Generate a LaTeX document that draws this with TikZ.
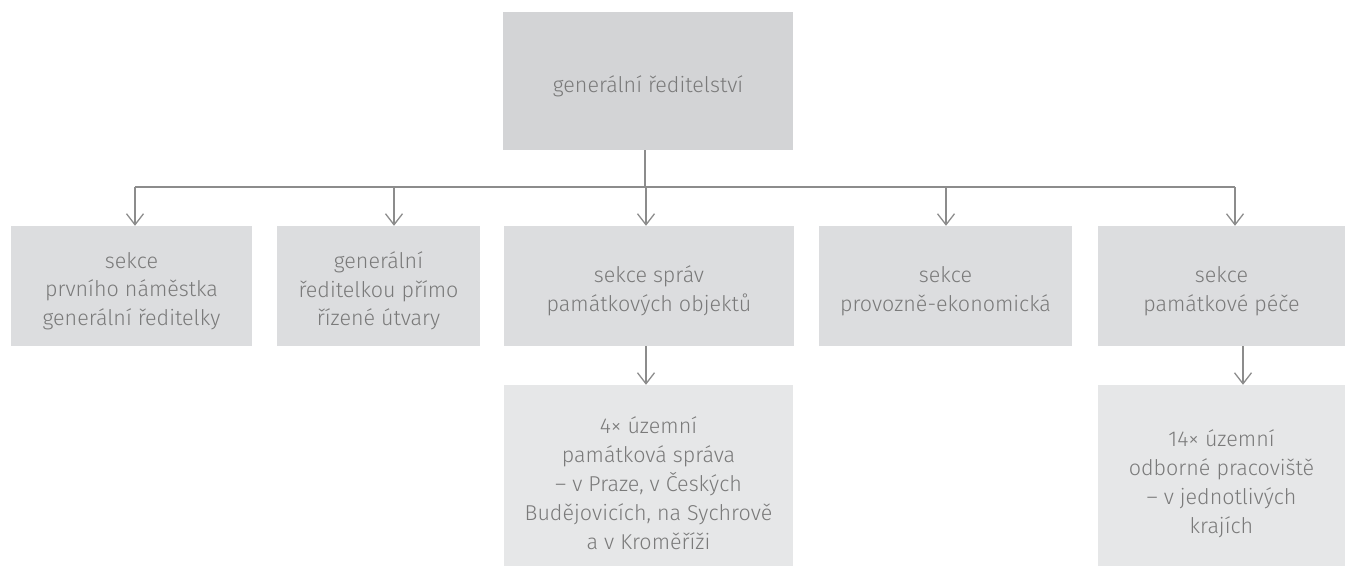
\documentclass[tikz,border=0pt]{standalone}
\usepackage{fontspec}
\setmainfont{Fira Sans}[UprightFont=* Light]
\usepackage{xcolor}
\usetikzlibrary{positioning, arrows.meta, calc}

\definecolor{topgray}{HTML}{D3D4D6}
\definecolor{midgray}{HTML}{DCDDDF}
\definecolor{lowgray}{HTML}{E6E7E8}
\definecolor{txtgray}{HTML}{7A7A7A}
\definecolor{linegray}{HTML}{8C8C8C}

\begin{document}
\begin{tikzpicture}[x=1pt, y=1pt, >={Straight Barb[length=11pt, width=17pt]},
        every node/.style={font=\fontsize{21.5}{28.5}\selectfont, text=txtgray, align=center, inner sep=0pt},
        unit/.style={rectangle, minimum height=120pt, fill=midgray},
        branch/.style={rectangle, minimum height=181pt, fill=lowgray},
        txt/.style={label={[yshift=-5pt]center:{#1}}},
        txtlow/.style={label={[yshift=-8pt, font=\fontsize{21.5}{29}\selectfont]center:{#1}}},
        link/.style={->, draw=linegray, line width=1.3pt}]
      \useasboundingbox (0,0) rectangle (1345,-566);

      % Top node
      \node[rectangle, fill=topgray, minimum width=290pt, minimum height=138pt,
        txt={generální ředitelství}] (gr) at (648,-81) {};

      % Sections
      \node[unit, minimum width=241pt, txt={sekce\\prvního náměstka\\generální ředitelky}] (s1) at (131.5,-286) {};
      \node[unit, minimum width=203pt, txt={generální\\ředitelkou přímo\\řízené útvary}] (s2) at (378.5,-286) {};
      \node[unit, minimum width=290pt, txt={sekce správ\\památkových objektů}] (s3) at (649,-286) {};
      \node[unit, minimum width=253pt, txt={sekce\\provozně-ekonomická}] (s4) at (945.5,-286) {};
      \node[unit, minimum width=247pt, txt={sekce\\památkové péče}] (s5) at (1221.5,-286) {};

      % Regional units
      \node[branch, minimum width=289pt,
        txtlow={4× územní\\památková správa\\– v Praze, v Českých\\Budějovicích, na Sychrově\\a v Kroměříži}] (ups) at (648.5,-475.5) {};
      \node[branch, minimum width=247pt,
        txtlow={14× územní\\odborné pracoviště\\– v jednotlivých\\krajích}] (uop) at (1221.5,-475.5) {};

      % Bus line
      \coordinate (b0) at (645,-187);
      \coordinate (b1) at (135,-187);
      \coordinate (b2) at (394,-187);
      \coordinate (b3) at (646,-187);
      \coordinate (b4) at (946,-187);
      \coordinate (b5) at (1235,-187);
      \draw[draw=linegray, line width=1.3pt] (gr.south -| b0) -- (b0);
      \draw[draw=linegray, line width=1.3pt] (b1) -- (b5);
      \foreach \i in {1,...,5}
        \draw[link] (b\i) -- (b\i |- s\i.north);

      % Down to regional units
      \coordinate (d3) at (646,-346);
      \coordinate (d5) at (1243,-346);
      \draw[link] (d3) -- (d3 |- ups.north);
      \draw[link] (d5) -- (d5 |- uop.north);
    \end{tikzpicture}
\end{document}
